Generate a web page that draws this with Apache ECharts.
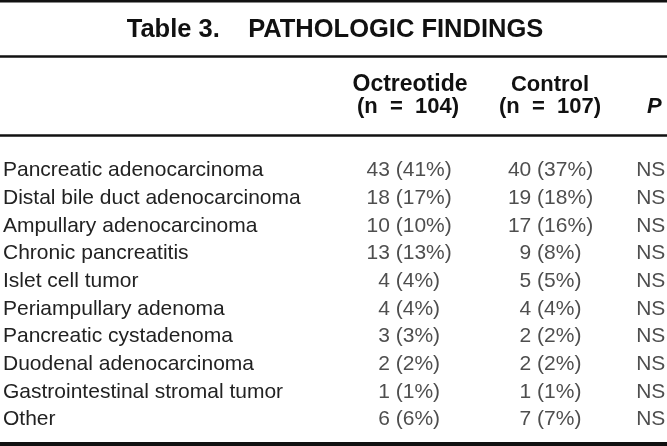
<!DOCTYPE html>
<html>
<head>
<meta charset="utf-8">
<script src="https://cdn.jsdelivr.net/npm/echarts@6/dist/echarts.min.js"></script>
<style>
  html, body { margin: 0; padding: 0; background: #fff; }
  #table { width: 667px; height: 446px; }
</style>
</head>
<body>
<div id="table"></div>
<script>
// table content
const categories = [
  'Pancreatic adenocarcinoma',
  'Distal bile duct adenocarcinoma',
  'Ampullary adenocarcinoma',
  'Chronic pancreatitis',
  'Islet cell tumor',
  'Periampullary adenoma',
  'Pancreatic cystadenoma',
  'Duodenal adenocarcinoma',
  'Gastrointestinal stromal tumor',
  'Other'
]
const octreotideN = [43, 18, 10, 13, 4, 4, 3, 2, 1, 6]
const octreotidePct = [41, 17, 10, 13, 4, 4, 3, 2, 1, 6]
const controlN = [40, 19, 17, 9, 5, 4, 2, 2, 1, 7]
const controlPct = [37, 18, 16, 8, 5, 4, 2, 2, 1, 7]
const pValues = ['NS', 'NS', 'NS', 'NS', 'NS', 'NS', 'NS', 'NS', 'NS', 'NS']

const titleText = 'Table 3.    PATHOLOGIC FINDINGS'
const groupNames = ['Octreotide', 'Control']
const groupSizes = [104, 107]

// layout (column positions on the hidden x scale, in px)
const colX = { oct: 408, ctrl: 550, p: 636 }
const FONT = "'Liberation Sans', Arial, Helvetica, sans-serif"
const INK = '#222'

const cell = (x, texts) => texts.map((t, i) => ({ value: [x, i], label: { formatter: t } }))

const textSeries = (name, x, texts, align) => ({
  name,
  type: 'scatter',
  symbolSize: 0,
  silent: true,
  data: cell(x, texts),
  label: {
    show: true,
    position: 'inside',
    align,
    verticalAlign: 'middle',
    fontFamily: FONT,
    fontSize: 21,
    color: INK
  }
})

const Chart = echarts.init(document.getElementById('table'), null, { renderer: 'canvas' })
const rule = (y, w) => ({
  type: 'line',
  shape: { x1: 0, y1: y, x2: 667, y2: y },
  style: { stroke: '#111', lineWidth: w }
})
const headText = (x, y, text, extra) => ({
  type: 'text',
  x,
  y,
  style: Object.assign({
    text,
    fill: '#111',
    font: 'bold 22px ' + FONT,
    textAlign: 'center',
    textVerticalAlign: 'middle'
  }, extra || {})
})

const option = {
  animation: false,
  backgroundColor: '#fff',
  grid: { left: 0, right: 0, top: 156.5, bottom: 12.5 },
  xAxis: { type: 'value', min: 0, max: 667, show: false },
  yAxis: {
    type: 'category',
    inverse: true,
    data: categories,
    axisLine: { show: false },
    axisTick: { show: false },
    splitLine: { show: false },
    axisLabel: {
      inside: true,
      margin: 0,
      align: 'left',
      fontFamily: FONT,
      fontSize: 21,
      color: INK
    }
  },
  series: [
    textSeries('Octreotide', colX.oct, octreotideN.map((n, i) => n + ' (' + octreotidePct[i] + '%)'), 'center'),
    textSeries('Control', colX.ctrl, controlN.map((n, i) => n + ' (' + controlPct[i] + '%)'), 'center'),
    textSeries('P', colX.p, pValues, 'left')
  ],
  graphic: [
    rule(1, 3),
    rule(56.5, 2.5),
    rule(135.5, 2.5),
    rule(444, 4),
    headText(335, 30, titleText, { font: 'bold 25.5px ' + FONT }),
    headText(colX.oct + 2, 85, groupNames[0], { font: 'bold 23px ' + FONT }),
    headText(colX.oct, 107, '(n  =  ' + groupSizes[0] + ')'),
    headText(colX.ctrl, 85, groupNames[1]),
    headText(colX.ctrl, 107, '(n  =  ' + groupSizes[1] + ')'),
    headText(647, 107, 'P', { font: 'italic bold 22px ' + FONT, textAlign: 'left' })
  ]
}
option && Chart.setOption(option)
</script>
</body>
</html>
